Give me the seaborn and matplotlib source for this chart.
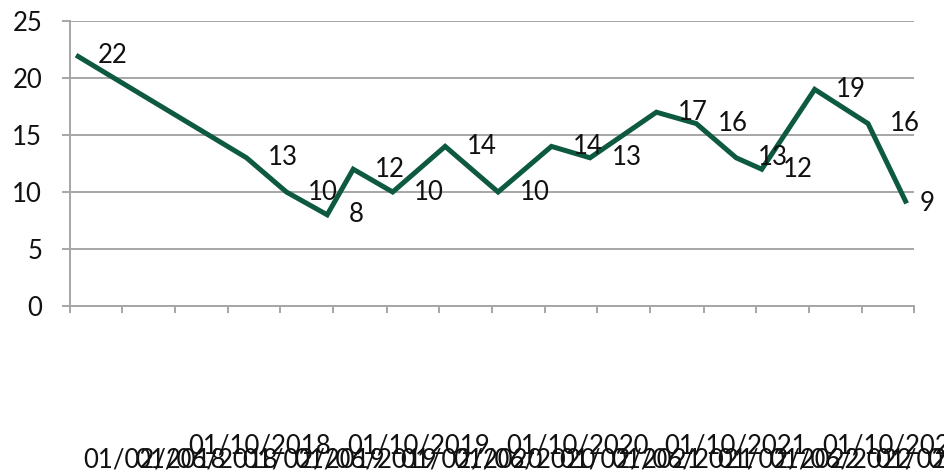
import matplotlib
matplotlib.use("Agg")
import matplotlib.pyplot as plt
import matplotlib.transforms as mtransforms
import seaborn as sns
import pandas as pd

dates = ["2018-02-15", "2019-03-15", "2019-06-15", "2019-09-17", "2019-11-16",
         "2020-02-15", "2020-06-15", "2020-10-15", "2021-02-15", "2021-05-15",
         "2021-10-15", "2022-01-15", "2022-04-17", "2022-06-15", "2022-10-15",
         "2023-02-15", "2023-05-15"]
values = [22, 13, 10, 8, 12, 10, 14, 10, 14, 13, 17, 16, 13, 12, 19, 16, 9]
tick_dates = ["2018-02-01", "2018-06-01", "2018-10-01", "2019-02-01", "2019-06-01",
              "2019-10-01", "2020-02-01", "2020-06-01", "2020-10-01", "2021-02-01",
              "2021-06-01", "2021-10-01", "2022-02-01", "2022-06-01", "2022-10-01",
              "2023-02-01", "2023-06-01"]
y_ticks = [0, 5, 10, 15, 20, 25]

sns.set_theme(style="white")
plt.rcParams['font.family'] = ['Lato', 'DejaVu Sans']

df = pd.DataFrame({"date": pd.to_datetime(dates), "value": values})
ticks = pd.to_datetime(tick_dates)

fig = plt.figure(figsize=(9.44, 4.70), dpi=100)
ax = fig.add_axes([70/944, 1-306/470, (914-70)/944, (306-21)/470])

line_color = "#0e5a40"
grid_color = "#a6a6a6"
fs = 18.5

sns.lineplot(data=df, x="date", y="value", ax=ax, color=line_color, linewidth=3.6,
             solid_joinstyle="miter", solid_capstyle="butt")

n = len(df)
for i, (d, v) in enumerate(zip(df["date"], df["value"])):
    dx = 9 if i == n - 1 else 15.5
    ax.annotate(str(v), (d, v), xytext=(dx, 0), textcoords="offset points",
                ha="left", va="center", fontsize=fs, color="#111111",
                annotation_clip=False)

ax.set_xlim(ticks[0], ticks[-1])
ax.set_ylim(0, 25)
ax.set_yticks(y_ticks)
ax.set_yticklabels([str(t) for t in y_ticks], fontsize=fs, color="#111111")
ax.yaxis.grid(True, color=grid_color, linewidth=1.4)
ax.set_axisbelow(True)

ax.set_xticks(ticks)
ax.set_xticklabels([t.strftime("%d/%m/%Y") for t in ticks], fontsize=fs, color="#111111")
ax.set_xlabel("")
ax.set_ylabel("")

for s in ["top", "right"]:
    ax.spines[s].set_visible(False)
for s in ["left", "bottom"]:
    ax.spines[s].set_color(grid_color)
    ax.spines[s].set_linewidth(1.4)

ax.tick_params(axis="y", length=6, width=1.4, color=grid_color, pad=14, left=True)
ax.tick_params(axis="x", length=5, width=1.4, color=grid_color, bottom=True, direction="out")

shift = mtransforms.ScaledTranslation(0.85, 0, fig.dpi_scale_trans)
for tk, t in zip(ax.xaxis.get_major_ticks(), ticks):
    tk.set_pad(87 if t.month == 10 else 97)
    tk.label1.set_transform(tk.label1.get_transform() + shift)
    tk.label1.set_horizontalalignment("center")

fig.savefig("out.png", dpi=100)
